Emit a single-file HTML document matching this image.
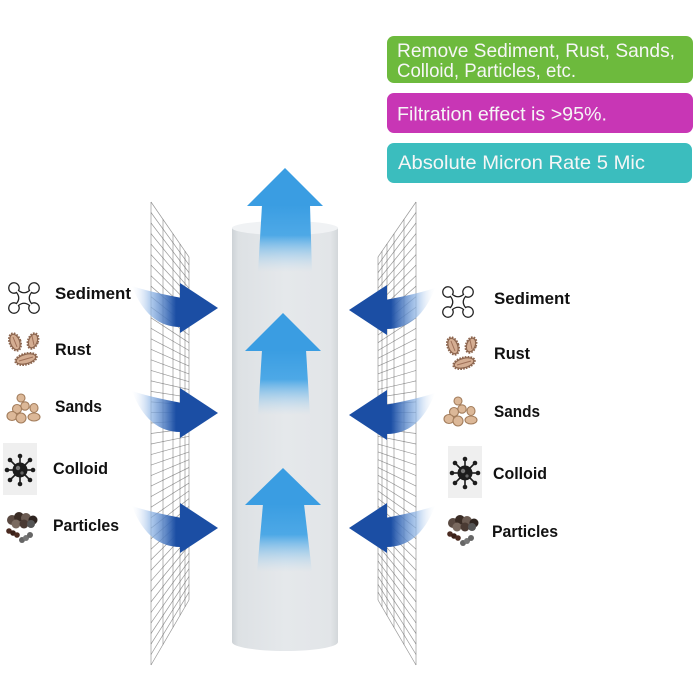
<!DOCTYPE html>
<html><head><meta charset="utf-8"><style>
html,body{margin:0;padding:0;background:#fff;}
svg{display:block;}
</style></head><body>
<svg width="700" height="700" viewBox="0 0 700 700" xmlns="http://www.w3.org/2000/svg">
<defs>
  <linearGradient id="cyl" x1="0" y1="0" x2="1" y2="0">
    <stop offset="0" stop-color="#cdd2d6"/>
    <stop offset="0.06" stop-color="#dde1e4"/>
    <stop offset="0.5" stop-color="#e5e8eb"/>
    <stop offset="0.93" stop-color="#e2e5e8"/>
    <stop offset="1" stop-color="#d3d7da"/>
  </linearGradient>
  <linearGradient id="shaft" x1="0" y1="0" x2="0" y2="1">
    <stop offset="0" stop-color="#3a9de2" stop-opacity="1"/>
    <stop offset="0.45" stop-color="#45a5e6" stop-opacity="0.95"/>
    <stop offset="1" stop-color="#b0d6f2" stop-opacity="0"/>
  </linearGradient>
  <linearGradient id="bandL" gradientUnits="userSpaceOnUse" x1="130" y1="0" x2="176" y2="0">
    <stop offset="0" stop-color="#ffffff" stop-opacity="0"/>
    <stop offset="0.45" stop-color="#8fb6e6" stop-opacity="0.7"/>
    <stop offset="1" stop-color="#1b4ea4" stop-opacity="1"/>
  </linearGradient>
  <linearGradient id="bandR" gradientUnits="userSpaceOnUse" x1="437" y1="0" x2="391" y2="0">
    <stop offset="0" stop-color="#ffffff" stop-opacity="0"/>
    <stop offset="0.45" stop-color="#8fb6e6" stop-opacity="0.7"/>
    <stop offset="1" stop-color="#1b4ea4" stop-opacity="1"/>
  </linearGradient>

  <g id="mesh" fill="none" stroke="#555" stroke-width="0.7" stroke-opacity="0.6">
    <path d="M151,202V665M163,219.4L163,644.5M173,233.8V627.4M180,244V615.4M185,251.2V606.8M189,257V600"/>
    <path d="M151,202L189,257M151,212.5L189,264.8M151,223L189,272.6M151,233.6L189,280.4M151,244.1L189,288.2M151,254.6L189,296M151,265.1L189,303.8M151,275.7L189,311.6M151,286.2L189,319.4M151,296.7L189,327.2M151,307.2L189,335M151,317.8L189,342.7M151,328.3L189,350.5M151,338.8L189,358.3M151,349.3L189,366.1M151,359.8L189,373.9M151,370.4L189,381.7M151,380.9L189,389.5M151,391.4L189,397.3M151,401.9L189,405.1M151,412.5L189,412.9M151,423L189,420.7M151,433.5L189,428.5M151,444L189,436.3M151,454.6L189,444.1M151,465.1L189,451.9M151,475.6L189,459.7M151,486.1L189,467.5M151,496.6L189,475.3M151,507.2L189,483.1M151,517.7L189,490.9M151,528.2L189,498.6M151,538.7L189,506.4M151,549.3L189,514.2M151,559.8L189,522M151,570.3L189,529.8M151,580.8L189,537.6M151,591.4L189,545.4M151,601.9L189,553.2M151,612.4L189,561M151,622.9L189,568.8M151,633.5L189,576.6M151,644L189,584.4M151,654.5L189,592.2M151,665L189,600"/>
  </g>

  <g id="sed">
    <path d="M10.5,8.5 Q16,13 21.5,8.5 A5.2,5.2 0 1 1 23.5,10.5 Q19,16 23.5,21.5 A5.2,5.2 0 1 1 21.5,23.5 Q16,19 10.5,23.5 A5.2,5.2 0 1 1 8.5,21.5 Q13,16 8.5,10.5 A5.2,5.2 0 1 1 10.5,8.5 Z" fill="#fff" stroke="#222" stroke-width="1.3"/>
  </g>

  <g id="rust" fill="#d4ad92" stroke="#8c6650" stroke-width="1.1">
    <ellipse cx="8" cy="12" rx="5.5" ry="9" transform="rotate(-20 8 12)" stroke-dasharray="1.6 1.2" stroke-width="2"/>
    <ellipse cx="8" cy="12" rx="4.6" ry="8" transform="rotate(-20 8 12)"/>
    <ellipse cx="26" cy="11" rx="5" ry="8" transform="rotate(20 26 11)" stroke-dasharray="1.6 1.2" stroke-width="2"/>
    <ellipse cx="26" cy="11" rx="4.2" ry="7" transform="rotate(20 26 11)"/>
    <ellipse cx="19" cy="29" rx="11" ry="5.5" transform="rotate(-15 19 29)" stroke-dasharray="1.6 1.2" stroke-width="2"/>
    <ellipse cx="19" cy="29" rx="10" ry="4.6" transform="rotate(-15 19 29)"/>
    <path d="M6,7 L10,17 M25,6 L27,15 M12,31 L26,27" stroke="#a07058" stroke-width="1" fill="none"/>
  </g>

  <g id="sand" fill="#dcb898" stroke="#a37d5c" stroke-width="1.1">
    <circle cx="16" cy="5" r="4"/>
    <circle cx="20" cy="13" r="4.2"/>
    <circle cx="12" cy="16" r="4.5"/>
    <ellipse cx="7" cy="23" rx="5" ry="4.5"/>
    <circle cx="16" cy="25" r="5"/>
    <ellipse cx="29" cy="15" rx="4" ry="4.5"/>
    <ellipse cx="29" cy="24" rx="6" ry="4"/>
  </g>

  <g id="colloid">
    <rect x="0" y="0" width="34" height="52" fill="#efefef"/>
    <g stroke="#1c1c1c" stroke-width="1.6">
      <line x1="17" y1="27" x2="17" y2="13"/>
      <line x1="17" y1="27" x2="17" y2="41"/>
      <line x1="17" y1="27" x2="4" y2="27"/>
      <line x1="17" y1="27" x2="30" y2="27"/>
      <line x1="17" y1="27" x2="7" y2="17"/>
      <line x1="17" y1="27" x2="27" y2="17"/>
      <line x1="17" y1="27" x2="7" y2="37"/>
      <line x1="17" y1="27" x2="27" y2="37"/>
    </g>
    <g fill="#1c1c1c">
      <circle cx="17" cy="13" r="2.3"/><circle cx="17" cy="41" r="2.3"/>
      <circle cx="4" cy="27" r="2.3"/><circle cx="30" cy="27" r="2.3"/>
      <circle cx="7" cy="17" r="2.3"/><circle cx="27" cy="17" r="2.3"/>
      <circle cx="7" cy="37" r="2.3"/><circle cx="27" cy="37" r="2.3"/>
      <circle cx="17" cy="27" r="7.5"/>
    </g>
    <circle cx="15" cy="25" r="2.2" fill="#777"/>
    <circle cx="19" cy="30" r="1.6" fill="#666"/>
  </g>

  <g id="part">
    <circle cx="8" cy="8" r="5" fill="#5a4a42"/>
    <circle cx="15" cy="5" r="5" fill="#3a2c25"/>
    <circle cx="22" cy="6" r="5" fill="#6b5b52"/>
    <circle cx="29" cy="8" r="4.5" fill="#2e241f"/>
    <circle cx="12" cy="12" r="4.5" fill="#7a6a60"/>
    <circle cx="20" cy="12" r="4.5" fill="#4a3a33"/>
    <circle cx="27" cy="12" r="4" fill="#555"/>
    <circle cx="5" cy="19" r="2.8" fill="#4a2a20"/>
    <circle cx="9" cy="21" r="2.8" fill="#3a2018"/>
    <circle cx="13" cy="23" r="2.8" fill="#4a2a20"/>
    <circle cx="18" cy="28" r="3" fill="#666"/>
    <circle cx="22" cy="26" r="3" fill="#777"/>
    <circle cx="26" cy="23" r="3" fill="#666"/>
  </g>
</defs>

<!-- info boxes -->
<rect x="387" y="36" width="306" height="47" rx="7" fill="#6dba3d"/>
<rect x="387" y="93" width="306" height="40" rx="7" fill="#c836b5"/>
<rect x="387" y="143" width="305" height="40" rx="7" fill="#3bbdbe"/>
<g font-family="'Liberation Sans', sans-serif" font-size="19.5" fill="#f6f6f6">
  <text x="397" y="57" textLength="278" lengthAdjust="spacingAndGlyphs">Remove Sediment, Rust, Sands,</text>
  <text x="397" y="77" textLength="179" lengthAdjust="spacingAndGlyphs">Colloid, Particles, etc.</text>
  <text x="397" y="120.5" textLength="210" lengthAdjust="spacingAndGlyphs">Filtration effect is &gt;95%.</text>
  <text x="398" y="169" textLength="247" lengthAdjust="spacingAndGlyphs">Absolute Micron Rate 5 Mic</text>
</g>

<!-- meshes -->
<use href="#mesh"/>
<use href="#mesh" transform="translate(567,0) scale(-1,1)"/>

<!-- cylinder -->
<rect x="232" y="228" width="106" height="414" fill="url(#cyl)"/>
<ellipse cx="285" cy="642" rx="53" ry="9" fill="url(#cyl)"/>
<ellipse cx="285" cy="228" rx="53" ry="7" fill="#f0f2f4"/>

<!-- up arrows -->
<polygon points="262,205 310,205 312,272 258,272" fill="url(#shaft)"/>
<polygon points="247,206 285,168 323,206" fill="#3a9de2"/>
<polygon points="262,350 306,350 310,415 258,415" fill="url(#shaft)"/>
<polygon points="245,351 283,313 321,351" fill="#3a9de2"/>
<polygon points="263,504 304,504 312,572 257,572" fill="url(#shaft)"/>
<polygon points="245,505 283,468 321,505" fill="#3a9de2"/>

<!-- left curved arrows -->
<path d="M132,286 Q150,292 182,298 L182,327 Q148,328 132,286 Z" fill="url(#bandL)"/>
<path d="M180,283 L218,308 L180,333 Z" fill="#1b4ea4"/>
<path d="M132,391 Q150,397 182,403 L182,432 Q148,433 132,391 Z" fill="url(#bandL)"/>
<path d="M180,388 L218,413 L180,438 Z" fill="#1b4ea4"/>
<path d="M132,506 Q150,512 182,518 L182,547 Q148,548 132,506 Z" fill="url(#bandL)"/>
<path d="M180,503 L218,528 L180,553 Z" fill="#1b4ea4"/>

<!-- right curved arrows -->
<path d="M435,288 Q417,294 385,300 L385,329 Q419,330 435,288 Z" fill="url(#bandR)"/>
<path d="M387,285 L349,310 L387,335 Z" fill="#1b4ea4"/>
<path d="M435,393 Q417,399 385,405 L385,434 Q419,435 435,393 Z" fill="url(#bandR)"/>
<path d="M387,390 L349,415 L387,440 Z" fill="#1b4ea4"/>
<path d="M435,506 Q417,512 385,518 L385,547 Q419,548 435,506 Z" fill="url(#bandR)"/>
<path d="M387,503 L349,528 L387,553 Z" fill="#1b4ea4"/>

<!-- icons left -->
<use href="#sed" transform="translate(8,282)"/>
<use href="#rust" transform="translate(7,330)"/>
<use href="#sand" transform="translate(5,393)"/>
<use href="#colloid" transform="translate(3,443)"/>
<use href="#part" transform="translate(4,512)"/>

<!-- icons right -->
<use href="#sed" transform="translate(442,286)"/>
<use href="#rust" transform="translate(445,334)"/>
<use href="#sand" transform="translate(442,396)"/>
<use href="#colloid" transform="translate(448,446)"/>
<use href="#part" transform="translate(445,515)"/>

<!-- labels -->
<g font-family="'Liberation Sans', sans-serif" font-size="17" font-weight="bold" fill="#111">
  <text x="55" y="299" textLength="76" lengthAdjust="spacingAndGlyphs">Sediment</text>
  <text x="55" y="355" textLength="36" lengthAdjust="spacingAndGlyphs">Rust</text>
  <text x="55" y="412" textLength="47" lengthAdjust="spacingAndGlyphs">Sands</text>
  <text x="53" y="474" textLength="55" lengthAdjust="spacingAndGlyphs">Colloid</text>
  <text x="53" y="531" textLength="66" lengthAdjust="spacingAndGlyphs">Particles</text>

  <text x="494" y="304" textLength="76" lengthAdjust="spacingAndGlyphs">Sediment</text>
  <text x="494" y="359" textLength="36" lengthAdjust="spacingAndGlyphs">Rust</text>
  <text x="494" y="417" textLength="46" lengthAdjust="spacingAndGlyphs">Sands</text>
  <text x="493" y="479" textLength="54" lengthAdjust="spacingAndGlyphs">Colloid</text>
  <text x="492" y="537" textLength="66" lengthAdjust="spacingAndGlyphs">Particles</text>
</g>
</svg>
</body></html>
